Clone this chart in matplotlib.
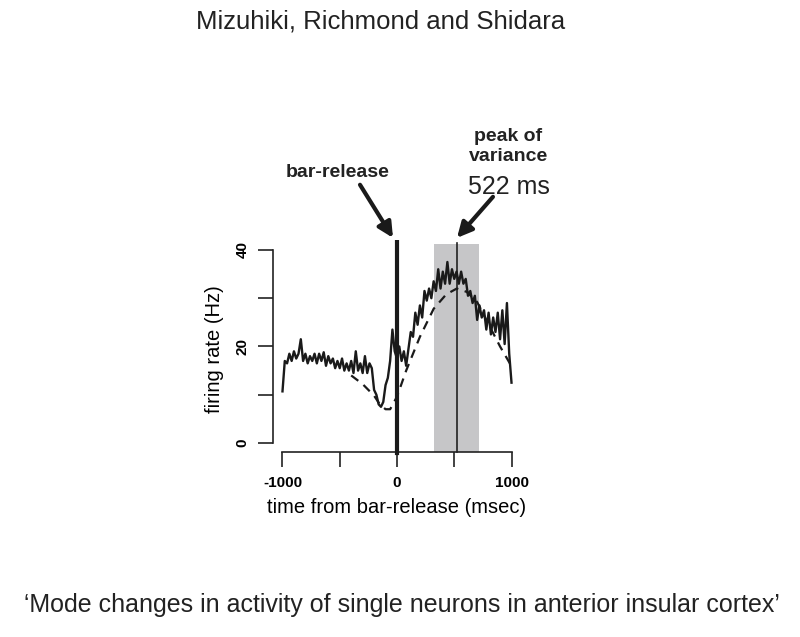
import matplotlib
matplotlib.use("Agg")
import matplotlib.pyplot as plt
from matplotlib.patches import Rectangle

plt.rcParams['font.family'] = ['Liberation Sans', 'DejaVu Sans']

# data
time_ms = list(range(-1000, 1001, 20))
rate_hz = [10.7, 17, 16.5, 18.5, 17, 19, 17.5, 18.5, 21.5, 17,
           18.5, 16.5, 18, 17, 18.5, 16.5, 18.5, 17, 18.8, 16,
           18, 16.5, 17.5, 15.5, 17, 15.5, 17.5, 15, 16.5, 15,
           17, 14.5, 19, 15, 16.5, 14.5, 18, 14.5, 16.5, 15.5,
           11, 10, 8, 7.5, 8.5, 12, 13.5, 17, 23.5, 19,
           17.5, 20, 17, 19, 16, 19.5, 23, 22, 27, 24.5,
           28.5, 26, 31.5, 29.5, 32, 30, 33.5, 31.5, 36, 32,
           35.5, 33, 37.5, 33, 36, 34, 35.5, 33, 35.5, 33,
           34, 30.5, 31.5, 29, 30.5, 25.5, 28.5, 26, 27.5, 23.5,
           27, 22.5, 26, 23, 27, 21.5, 27.5, 20.5, 29, 18.5,
           12.5]

fit_ms = [-400, -300, -200, -150, -100, -60,
          0, 80, 200, 320, 430, 522, 610, 700, 780, 900, 1000]
fit_hz = [14.0, 12.2, 9.8, 8.0, 7.0, 7.0,
          9.6, 15.0, 22.0, 27.8, 30.8, 32.0, 31.3, 29.2, 25.5, 20.0, 15.9]

peak_ms = 522
window_ms = (320, 720)

fig = plt.figure(figsize=(8, 6.37), dpi=100)
ax = fig.add_axes([0.3388, 0.2818, 0.3149, 0.341])
ax.set_xlim(-1100, 1100)
ax.set_ylim(-3, 42)

ax.add_patch(Rectangle((window_ms[0], -1.9), window_ms[1] - window_ms[0], 43.2,
                       color='#c6c6c8', lw=0, zorder=1))
ax.plot([peak_ms, peak_ms], [-1.9, 41.5], color='#222222', lw=1.2, zorder=2)
ax.plot([0, 0], [-2.1, 41.7], color='#1a1a1a', lw=3, zorder=4)

ax.plot(fit_ms, fit_hz, color='#1a1a1a', lw=1.6, ls=(0, (4, 3)), zorder=3)
ax.plot(time_ms, rate_hz, color='#1a1a1a', lw=1.7, zorder=3)

for s in ['top', 'right']:
    ax.spines[s].set_visible(False)
ax.spines['left'].set_position(('data', -1083))
ax.spines['left'].set_bounds(0, 40)
ax.spines['bottom'].set_position(('data', -1.87))
ax.spines['bottom'].set_bounds(-1000, 1000)
for s in ['left', 'bottom']:
    ax.spines[s].set_linewidth(1.2)
    ax.spines[s].set_color('#222222')

ax.set_xticks([-1000, -500, 0, 500, 1000])
ax.set_xticklabels(['-1000', '', '0', '', '1000'], fontweight='bold', fontsize=11)
ax.set_yticks([0, 10, 20, 30, 40])
ax.set_yticklabels(['0', '', '20', '', '40'], fontweight='bold', fontsize=11,
                   rotation=90, va='center')
ax.tick_params(length=11, width=1.2, color='#222222', pad=6)

ax.set_xlabel('time from bar-release (msec)', fontsize=14.5, labelpad=6)
ax.set_ylabel('firing rate (Hz)', fontsize=14.5, labelpad=8)

ax.annotate('', xy=(-35, 42.5), xytext=(-323, 53.5), annotation_clip=False,
            arrowprops=dict(arrowstyle='-|>,head_length=0.9,head_width=0.45',
                            lw=3, color='#1a1a1a', shrinkA=0, shrinkB=0))
ax.annotate('', xy=(524, 42.5), xytext=(838, 51), annotation_clip=False,
            arrowprops=dict(arrowstyle='-|>,head_length=0.9,head_width=0.45',
                            lw=3, color='#1a1a1a', shrinkA=0, shrinkB=0))
ax.text(-515, 56, 'bar-release', fontsize=14, fontweight='bold',
        ha='center', va='center', color='#222222')
ax.text(970, 63.4, 'peak of', fontsize=14, fontweight='bold',
        ha='center', va='center', color='#222222')
ax.text(970, 59.3, 'variance', fontsize=14, fontweight='bold',
        ha='center', va='center', color='#222222')
ax.text(975, 53, '522 ms', fontsize=18, ha='center', va='center', color='#222222')

fig.text(0.476, 0.966, 'Mizuhiki, Richmond and Shidara', fontsize=18.5,
         ha='center', va='center', color='#222222')
fig.text(0.502, 0.05, '\u2018Mode changes in activity of single neurons in anterior insular cortex\u2019',
         fontsize=18, ha='center', va='center', color='#222222')

fig.savefig('out.png', dpi=100)
